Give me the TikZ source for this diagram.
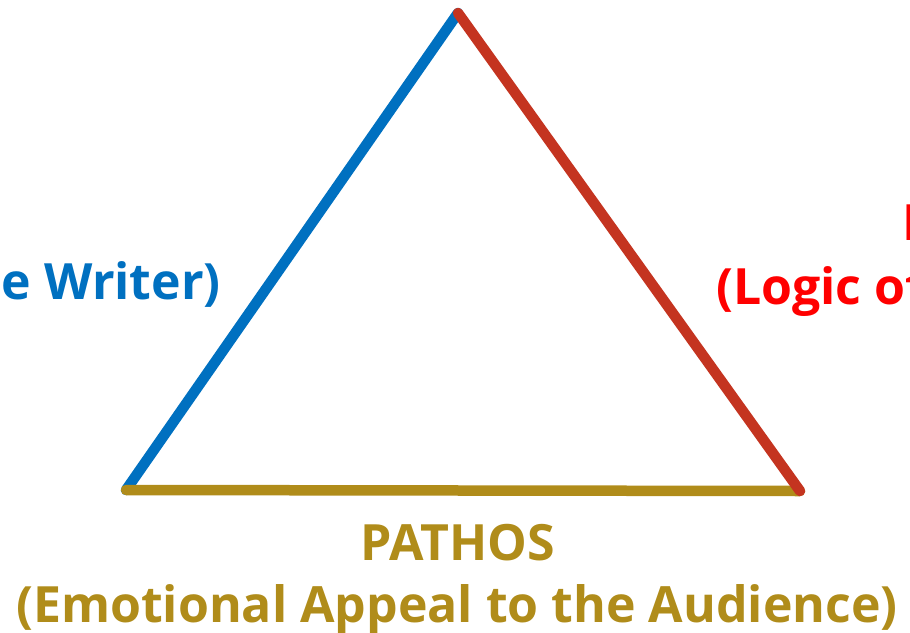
\documentclass[tikz,border=0pt]{standalone}
\usepackage{fontspec}
\setmainfont{Open Sans}
\definecolor{ethosblue}{RGB}{0,112,192}
\definecolor{logosred}{RGB}{196,52,32}
\definecolor{logostext}{RGB}{255,0,0}
\definecolor{pathosgold}{RGB}{176,140,26}
\begin{document}
\begin{tikzpicture}[x=1pt,y=-1pt,
  side/.style={line width=10.5pt,line cap=round},
  lbl/.style={inner sep=0pt,font=\bfseries\fontsize{50}{60}\selectfont}]
\useasboundingbox (0,0) rectangle (910,632);
\clip (0,0) rectangle (910,632);
\coordinate (top) at (458,13);
\coordinate (bl) at (126,490);
\coordinate (br) at (800,491);
\draw[side,ethosblue] (bl) -- (top);
\draw[side,pathosgold] (bl) -- (br);
\draw[side,logosred] (top) -- (br);
\node[lbl,text=ethosblue,anchor=base east] (ethos) at (221,299) {e Writer)};
\node[lbl,text=logostext,anchor=base west] (logos2) at (716,304) {(Logic of};
\node[lbl,text=logostext,anchor=base west] (logos1) at (902,240) {L};
\node[lbl,text=pathosgold,anchor=base] (pathos1) at (458,560) {PATHOS};
\node[lbl,text=pathosgold,anchor=base] (pathos2) at (457,622) {(Emotional Appeal to the Audience)};
\end{tikzpicture}
\end{document}
